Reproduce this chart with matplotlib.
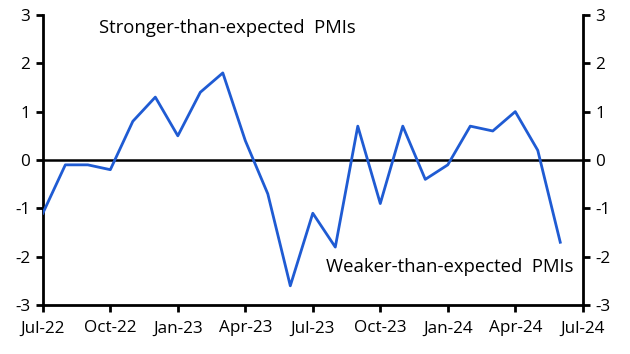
import matplotlib
matplotlib.use("Agg")
import matplotlib.pyplot as plt

plt.rcParams['font.family'] = ['Open Sans', 'DejaVu Sans']

months = list(range(24))
values = [-1.1, -0.1, -0.1, -0.2, 0.8, 1.3, 0.5, 1.4, 1.8, 0.4, -0.7, -2.6,
          -1.1, -1.8, 0.7, -0.9, 0.7, -0.4, -0.1, 0.7, 0.6, 1.0, 0.2, -1.7]
tick_pos = [0, 3, 6, 9, 12, 15, 18, 21, 24]
tick_labels = ['Jul-22', 'Oct-22', 'Jan-23', 'Apr-23', 'Jul-23', 'Oct-23',
               'Jan-24', 'Apr-24', 'Jul-24']
yticks = [-3, -2, -1, 0, 1, 2, 3]

fig = plt.figure(figsize=(6.3, 3.54), dpi=100)
ax = fig.add_axes([0.068, 0.138, 0.857, 0.82])
ax.plot(months, values, color='#1f5bd3', lw=2.0, zorder=3)
ax.axhline(0, color='black', lw=1.8, zorder=2)
ax.set_xlim(0, 24)
ax.set_ylim(-3, 3)
ax.set_xticks(tick_pos)
ax.set_xticklabels(tick_labels)
ax.set_yticks(yticks)
ax.set_yticklabels([str(v) for v in yticks])
for s in ['left', 'right', 'bottom']:
    ax.spines[s].set_linewidth(2.0)
ax.spines['top'].set_visible(False)
ax.tick_params(axis='both', direction='out', length=5, width=2.0, labelsize=12.3, pad=4)
ax.tick_params(axis='y', left=True, right=True, labelleft=True, labelright=True)
ax.tick_params(axis='x', pad=6)

ax.text(2.5, 2.72, 'Stronger-than-expected  PMIs', fontsize=13.3, ha='left', va='center')
ax.text(12.6, -2.22, 'Weaker-than-expected  PMIs', fontsize=13.3, ha='left', va='center')

fig.savefig('out.png', dpi=100)
